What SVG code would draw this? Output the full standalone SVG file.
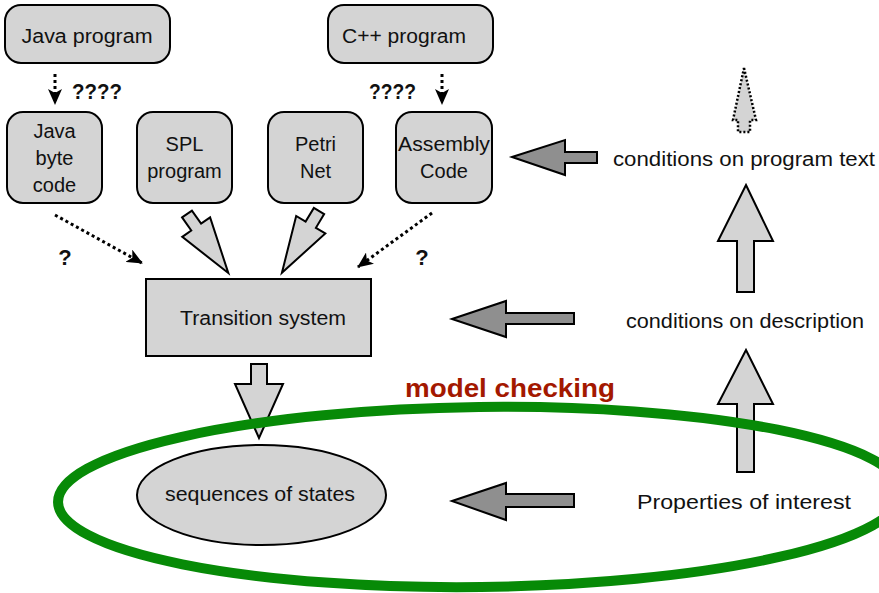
<svg xmlns="http://www.w3.org/2000/svg" width="879" height="593" viewBox="0 0 879 593">
  <defs>
    <style>
      .box { fill: #d4d4d4; stroke: #000; stroke-width: 2; }
      .lbl { font-family: "Liberation Sans", "DejaVu Sans", sans-serif; font-size: 20px; fill: #111; text-anchor: middle; }
      .q { font-family: "Liberation Sans", "DejaVu Sans", sans-serif; font-size: 22px; font-weight: bold; fill: #111; }
      .fat { fill: #d4d4d4; stroke: #000; stroke-width: 2; stroke-linejoin: miter; }
      .dark { fill: #8f8f8f; stroke: #000; stroke-width: 2; stroke-linejoin: miter; }
      .dot { fill: none; stroke: #000; stroke-width: 3; stroke-dasharray: 3 3; }
    </style>
    <marker id="head" viewBox="0 0 16 14" markerWidth="16" markerHeight="14" refX="15" refY="7" orient="auto" markerUnits="userSpaceOnUse">
      <path d="M0,0 L16,7 L0,14 L4,7 z" fill="#000"/>
    </marker>
  </defs>

  <rect width="879" height="593" fill="#fff"/>

  <!-- source programs -->
  <g id="java-program">
    <rect class="box" x="5" y="5" width="165" height="58" rx="16"/>
    <text class="lbl" x="87" y="43" textLength="131" lengthAdjust="spacingAndGlyphs">Java program</text>
  </g>
  <g id="cpp-program">
    <rect class="box" x="328" y="5" width="165" height="58" rx="16"/>
    <text class="lbl" x="404" y="43" textLength="124" lengthAdjust="spacingAndGlyphs">C++ program</text>
  </g>

  <!-- intermediate representations -->
  <g id="java-byte-code">
    <rect class="box" x="7" y="112" width="95" height="91" rx="16"/>
    <text class="lbl" x="54.5" y="138">Java</text>
    <text class="lbl" x="54.5" y="165">byte</text>
    <text class="lbl" x="54.5" y="192">code</text>
  </g>
  <g id="spl-program">
    <rect class="box" x="137" y="112" width="95" height="91" rx="16"/>
    <text class="lbl" x="184.5" y="151">SPL</text>
    <text class="lbl" x="184.5" y="178">program</text>
  </g>
  <g id="petri-net">
    <rect class="box" x="268" y="112" width="95" height="91" rx="16"/>
    <text class="lbl" x="315.5" y="151">Petri</text>
    <text class="lbl" x="315.5" y="178">Net</text>
  </g>
  <g id="assembly-code">
    <rect class="box" x="396" y="112" width="96" height="91" rx="16"/>
    <text class="lbl" x="444" y="151" textLength="92" lengthAdjust="spacingAndGlyphs">Assembly</text>
    <text class="lbl" x="444" y="178">Code</text>
  </g>

  <g id="transition-system">
    <rect class="box" x="146" y="279" width="225" height="77"/>
    <text class="lbl" x="263" y="325" font-size="19" textLength="166" lengthAdjust="spacingAndGlyphs">Transition system</text>
  </g>

  <g id="sequences-of-states">
    <ellipse class="box" cx="261.5" cy="495" rx="124.5" ry="50"/>
    <text class="lbl" x="260" y="501" font-size="21" textLength="190" lengthAdjust="spacingAndGlyphs">sequences of states</text>
  </g>

  <!-- specification levels -->
  <g id="conditions-program-text">
    <text class="lbl" x="744" y="166" textLength="262" lengthAdjust="spacingAndGlyphs">conditions on program text</text>
  </g>
  <g id="conditions-description">
    <text class="lbl" x="745" y="328" textLength="238" lengthAdjust="spacingAndGlyphs">conditions on description</text>
  </g>
  <g id="properties-of-interest">
    <text class="lbl" x="744" y="509" textLength="214" lengthAdjust="spacingAndGlyphs">Properties of interest</text>
  </g>

  <!-- connectors -->
  <g id="connectors">
    <!-- uncertain translations -->
    <line class="dot" x1="55" y1="74" x2="55" y2="104" marker-end="url(#head)"/>
    <text class="q" x="72" y="99" textLength="50" lengthAdjust="spacingAndGlyphs">????</text>
    <line class="dot" x1="442" y1="74" x2="442" y2="104" marker-end="url(#head)"/>
    <text class="q" x="369" y="99" textLength="47" lengthAdjust="spacingAndGlyphs">????</text>

    <line class="dot" x1="55" y1="215" x2="142" y2="263" marker-end="url(#head)"/>
    <text class="q" x="65" y="265" text-anchor="middle">?</text>
    <line class="dot" x1="432" y1="213" x2="358" y2="267" marker-end="url(#head)"/>
    <text class="q" x="422" y="265" text-anchor="middle">?</text>

    <!-- direct translations into the transition system -->
    <g transform="translate(187,214) rotate(-35)">
      <polygon class="fat" points="-6,0 6,0 6,16 17,16 0,72 -17,16 -6,16"/>
    </g>
    <g transform="translate(319,211) rotate(31)">
      <polygon class="fat" points="-6,0 6,0 6,16 17,16 0,72 -17,16 -6,16"/>
    </g>

    <!-- transition system to sequences of states -->
    <polygon class="fat" points="251,364 267,364 267,384 283,384 259,438 235,384 251,384"/>

    <!-- refinement arrows on the right -->
    <polygon class="fat" points="746,350 773,404 754,404 754,472 737,472 737,404 718,404"/>
    <polygon class="fat" points="746,185 773,241 754,241 754,292 737,292 737,241 718,241"/>
    <polygon class="fat" points="744,68 756,120 750,120 750,132 738,132 738,120 733,120" style="stroke-dasharray:2 2; stroke-width:2.5"/>

    <!-- conditions applied to the descriptions -->
    <polygon class="dark" points="512,157 565,140 565,152 597,152 597,163 565,163 565,175"/>
    <polygon class="dark" points="452,319 506,301 506,313 574,313 574,324 506,324 506,337"/>
    <polygon class="dark" points="452,501 506,483 506,494 574,494 574,507 506,507 506,520"/>
  </g>

  <!-- model checking scope -->
  <g id="model-checking">
    <ellipse cx="480" cy="497" rx="422" ry="90" fill="none" stroke="#078a07" stroke-width="10" transform="rotate(-0.7 480 497)"/>
    <text x="510" y="397" text-anchor="middle" font-family="Liberation Sans, DejaVu Sans, sans-serif" font-size="25" font-weight="bold" fill="#a31800" textLength="210" lengthAdjust="spacingAndGlyphs">model checking</text>
  </g>
</svg>
